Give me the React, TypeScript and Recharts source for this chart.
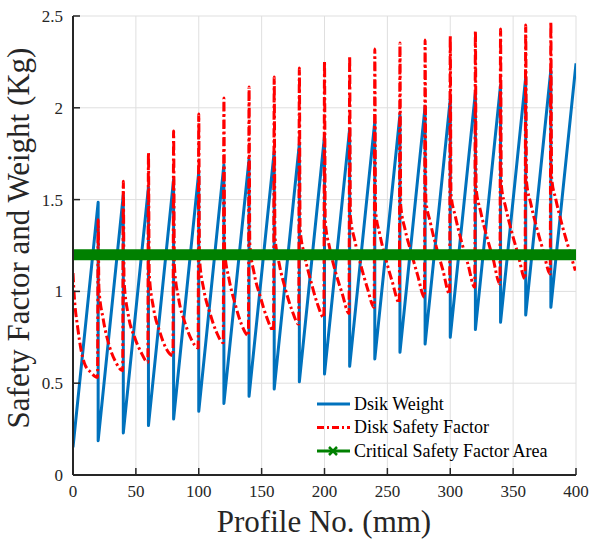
import React from 'react'
import { CartesianGrid, Legend, Line, LineChart, XAxis, YAxis } from 'recharts'

// Profile segments along the disk (each tooth of the saw is one 20 mm profile).
const segmentStarts = [
  0, 20, 40, 60, 80, 100, 120, 140, 160, 180, 200, 220, 240, 260, 280, 300, 320,
  340, 360, 380,
]
const segmentLength = 20

// Disk weight: value at the start of a segment and at its end (just before the drop).
const weightLow = [
  0.151, 0.187, 0.229, 0.269, 0.305, 0.347, 0.39, 0.429, 0.468, 0.508, 0.55,
  0.592, 0.632, 0.668, 0.713, 0.75, 0.792, 0.832, 0.871, 0.913,
]
const weightHigh = [
  1.485, 1.525, 1.568, 1.61, 1.65, 1.69, 1.72, 1.761, 1.803, 1.845, 1.885,
  1.926, 1.962, 2.008, 2.046, 2.084, 2.124, 2.166, 2.206, 2.242,
]

// Safety factor read at a few positions inside each segment.
const safetyOffsets = [0, 0.6, 4, 9, 14, 19.5]
const safetyPeak = [
  1.1, 1.39, 1.6, 1.754, 1.874, 1.966, 2.053, 2.113, 2.168, 2.217, 2.255, 2.282,
  2.32, 2.353, 2.369, 2.391, 2.418, 2.429, 2.451, 2.467,
]
const safetyKnee = [
  1.02, 1.02, 1.06, 1.1, 1.14, 1.18, 1.22, 1.26, 1.3, 1.34, 1.38, 1.41, 1.44,
  1.47, 1.5, 1.53, 1.56, 1.58, 1.6, 1.62,
]
const safetyAt4 = [
  0.79, 0.85, 0.87, 0.91, 0.96, 1.01, 1.07, 1.1, 1.15, 1.2, 1.24, 1.28, 1.31,
  1.34, 1.38, 1.41, 1.44, 1.46, 1.48, 1.5,
]
const safetyAt9 = [
  0.61, 0.7, 0.75, 0.78, 0.83, 0.88, 0.93, 0.97, 1.01, 1.06, 1.1, 1.14, 1.17,
  1.21, 1.24, 1.27, 1.3, 1.32, 1.34, 1.36,
]
const safetyAt14 = [
  0.56, 0.615, 0.67, 0.69, 0.74, 0.78, 0.82, 0.86, 0.9, 0.94, 0.99, 1.02,
  1.05, 1.09, 1.12, 1.15, 1.18, 1.2, 1.22, 1.24,
]
const safetyEnd = [
  0.532, 0.568, 0.614, 0.65, 0.692, 0.72, 0.759, 0.786, 0.822, 0.858, 0.88,
  0.913, 0.937, 0.968, 0.986, 1.022, 1.04, 1.068, 1.095, 1.113,
]

const criticalLevel = 1.2
const criticalRange = [0, 400]

const xTicks = [0, 50, 100, 150, 200, 250, 300, 350, 400]
const yTicks = [0, 0.5, 1, 1.5, 2, 2.5]

const SERIF = '"Liberation Serif", "Times New Roman", serif'
const AXIS = '#262626'
const BLUE = '#0072bd'
const RED = '#ff0000'
const GREEN = '#008000'
const RED_DASH = '9 3 2.5 3'

const weightData = segmentStarts.flatMap((s, i) => [
  { x: s, y: weightLow[i] },
  { x: s + segmentLength, y: weightHigh[i] },
])

const safetyRows = [safetyPeak, safetyKnee, safetyAt4, safetyAt9, safetyAt14, safetyEnd]
const safetyData = segmentStarts.flatMap((s, i) =>
  safetyOffsets.map((o, j) => ({ x: s + o, y: safetyRows[j][i] })),
)

const criticalData = criticalRange.map((x) => ({ x, y: criticalLevel }))

const legendItems = [
  { label: 'Dsik Weight', color: BLUE, dash: undefined, marker: false },
  { label: 'Disk Safety Factor', color: RED, dash: '7 3 2 3', marker: false },
  { label: 'Critical Safety Factor Area', color: GREEN, dash: undefined, marker: true },
]

const serifStyle = { fontFamily: SERIF }

function LegendBox() {
  return (
    <svg width={260} height={72} style={{ display: 'block', fontFamily: SERIF }}>
      {legendItems.map((it, i) => {
        const y = 12 + i * 23.5
        return (
          <g key={it.label}>
            <line
              x1={1}
              x2={34}
              y1={y}
              y2={y}
              stroke={it.color}
              strokeWidth={3}
              strokeDasharray={it.dash}
            />
            {it.marker && (
              <g stroke={it.color} strokeWidth={2.5}>
                <line x1={13} y1={y - 4} x2={21} y2={y + 4} />
                <line x1={13} y1={y + 4} x2={21} y2={y - 4} />
              </g>
            )}
            <text x={38} y={y} dy="0.33em" fontSize={18} style={serifStyle} fill="#000">
              {it.label}
            </text>
          </g>
        )
      })}
    </svg>
  )
}

const hiddenTick = () => <g />

const tickText = { fontSize: 17, fill: AXIS, fontFamily: SERIF, style: serifStyle }

export default function App() {
  return (
    <div
      style={{
        position: 'absolute',
        left: 0,
        top: 0,
        width: 590,
        height: 542,
        background: '#fff',
        fontFamily: SERIF,
      }}
    >
      <LineChart
        width={590}
        height={542}
        margin={{ top: 16, right: 14, bottom: 0, left: 0 }}
        style={serifStyle}
      >
        <CartesianGrid stroke="#dfdfdf" strokeWidth={1} />
        <XAxis
          dataKey="x"
          type="number"
          domain={[0, 400]}
          ticks={xTicks}
          interval={0}
          allowDataOverflow
          height={67}
          tickSize={-7}
          tickMargin={17}
          axisLine={{ stroke: AXIS, strokeWidth: 2 }}
          tickLine={{ stroke: AXIS, strokeWidth: 1.5 }}
          tick={tickText}
        />
        <XAxis
          xAxisId="top"
          orientation="top"
          dataKey="x"
          type="number"
          domain={[0, 400]}
          ticks={xTicks}
          interval={0}
          height={0}
          tickSize={-7}
          axisLine={{ stroke: AXIS, strokeWidth: 2 }}
          tickLine={{ stroke: AXIS, strokeWidth: 1.5 }}
          tick={hiddenTick}
        />
        <YAxis
          type="number"
          domain={[0, 2.5]}
          ticks={yTicks}
          interval={0}
          allowDataOverflow
          width={73}
          tickSize={-7}
          tickMargin={17}
          axisLine={{ stroke: AXIS, strokeWidth: 2 }}
          tickLine={{ stroke: AXIS, strokeWidth: 1.5 }}
          tick={tickText}
        />
        <YAxis
          yAxisId="right"
          orientation="right"
          type="number"
          domain={[0, 2.5]}
          ticks={yTicks}
          interval={0}
          width={0}
          tickSize={-7}
          axisLine={{ stroke: AXIS, strokeWidth: 2 }}
          tickLine={{ stroke: AXIS, strokeWidth: 1.5 }}
          tick={hiddenTick}
        />
        <Line
          data={weightData}
          dataKey="y"
          name="Dsik Weight"
          type="linear"
          stroke={BLUE}
          strokeWidth={3}
          strokeLinejoin="round"
          dot={false}
          activeDot={false}
          isAnimationActive={false}
        />
        <Line
          data={safetyData}
          dataKey="y"
          name="Disk Safety Factor"
          type="monotone"
          stroke={RED}
          strokeWidth={3}
          strokeDasharray={RED_DASH}
          strokeLinejoin="round"
          dot={false}
          activeDot={false}
          isAnimationActive={false}
        />
        <Line
          data={criticalData}
          dataKey="y"
          name="Critical Safety Factor Area"
          type="linear"
          stroke={GREEN}
          strokeWidth={11}
          strokeLinecap="square"
          dot={false}
          activeDot={false}
          isAnimationActive={false}
        />
        <Legend
          layout="horizontal"
          verticalAlign="middle"
          align="center"
          wrapperStyle={{ left: 316, top: 392, width: 260, height: 72 }}
          content={() => <LegendBox />}
        />
      </LineChart>
      <svg
        width={590}
        height={542}
        style={{ position: 'absolute', left: 0, top: 0, pointerEvents: 'none' }}
      >
        <text
          transform="translate(28.5, 238) rotate(-90)"
          textAnchor="middle"
          fontSize={31}
          style={serifStyle}
          fill={AXIS}
        >
          Safety Factor and Weight (Kg)
        </text>
        <text x={324} y={532} textAnchor="middle" fontSize={31} style={serifStyle} fill={AXIS}>
          Profile No. (mm)
        </text>
      </svg>
    </div>
  )
}
